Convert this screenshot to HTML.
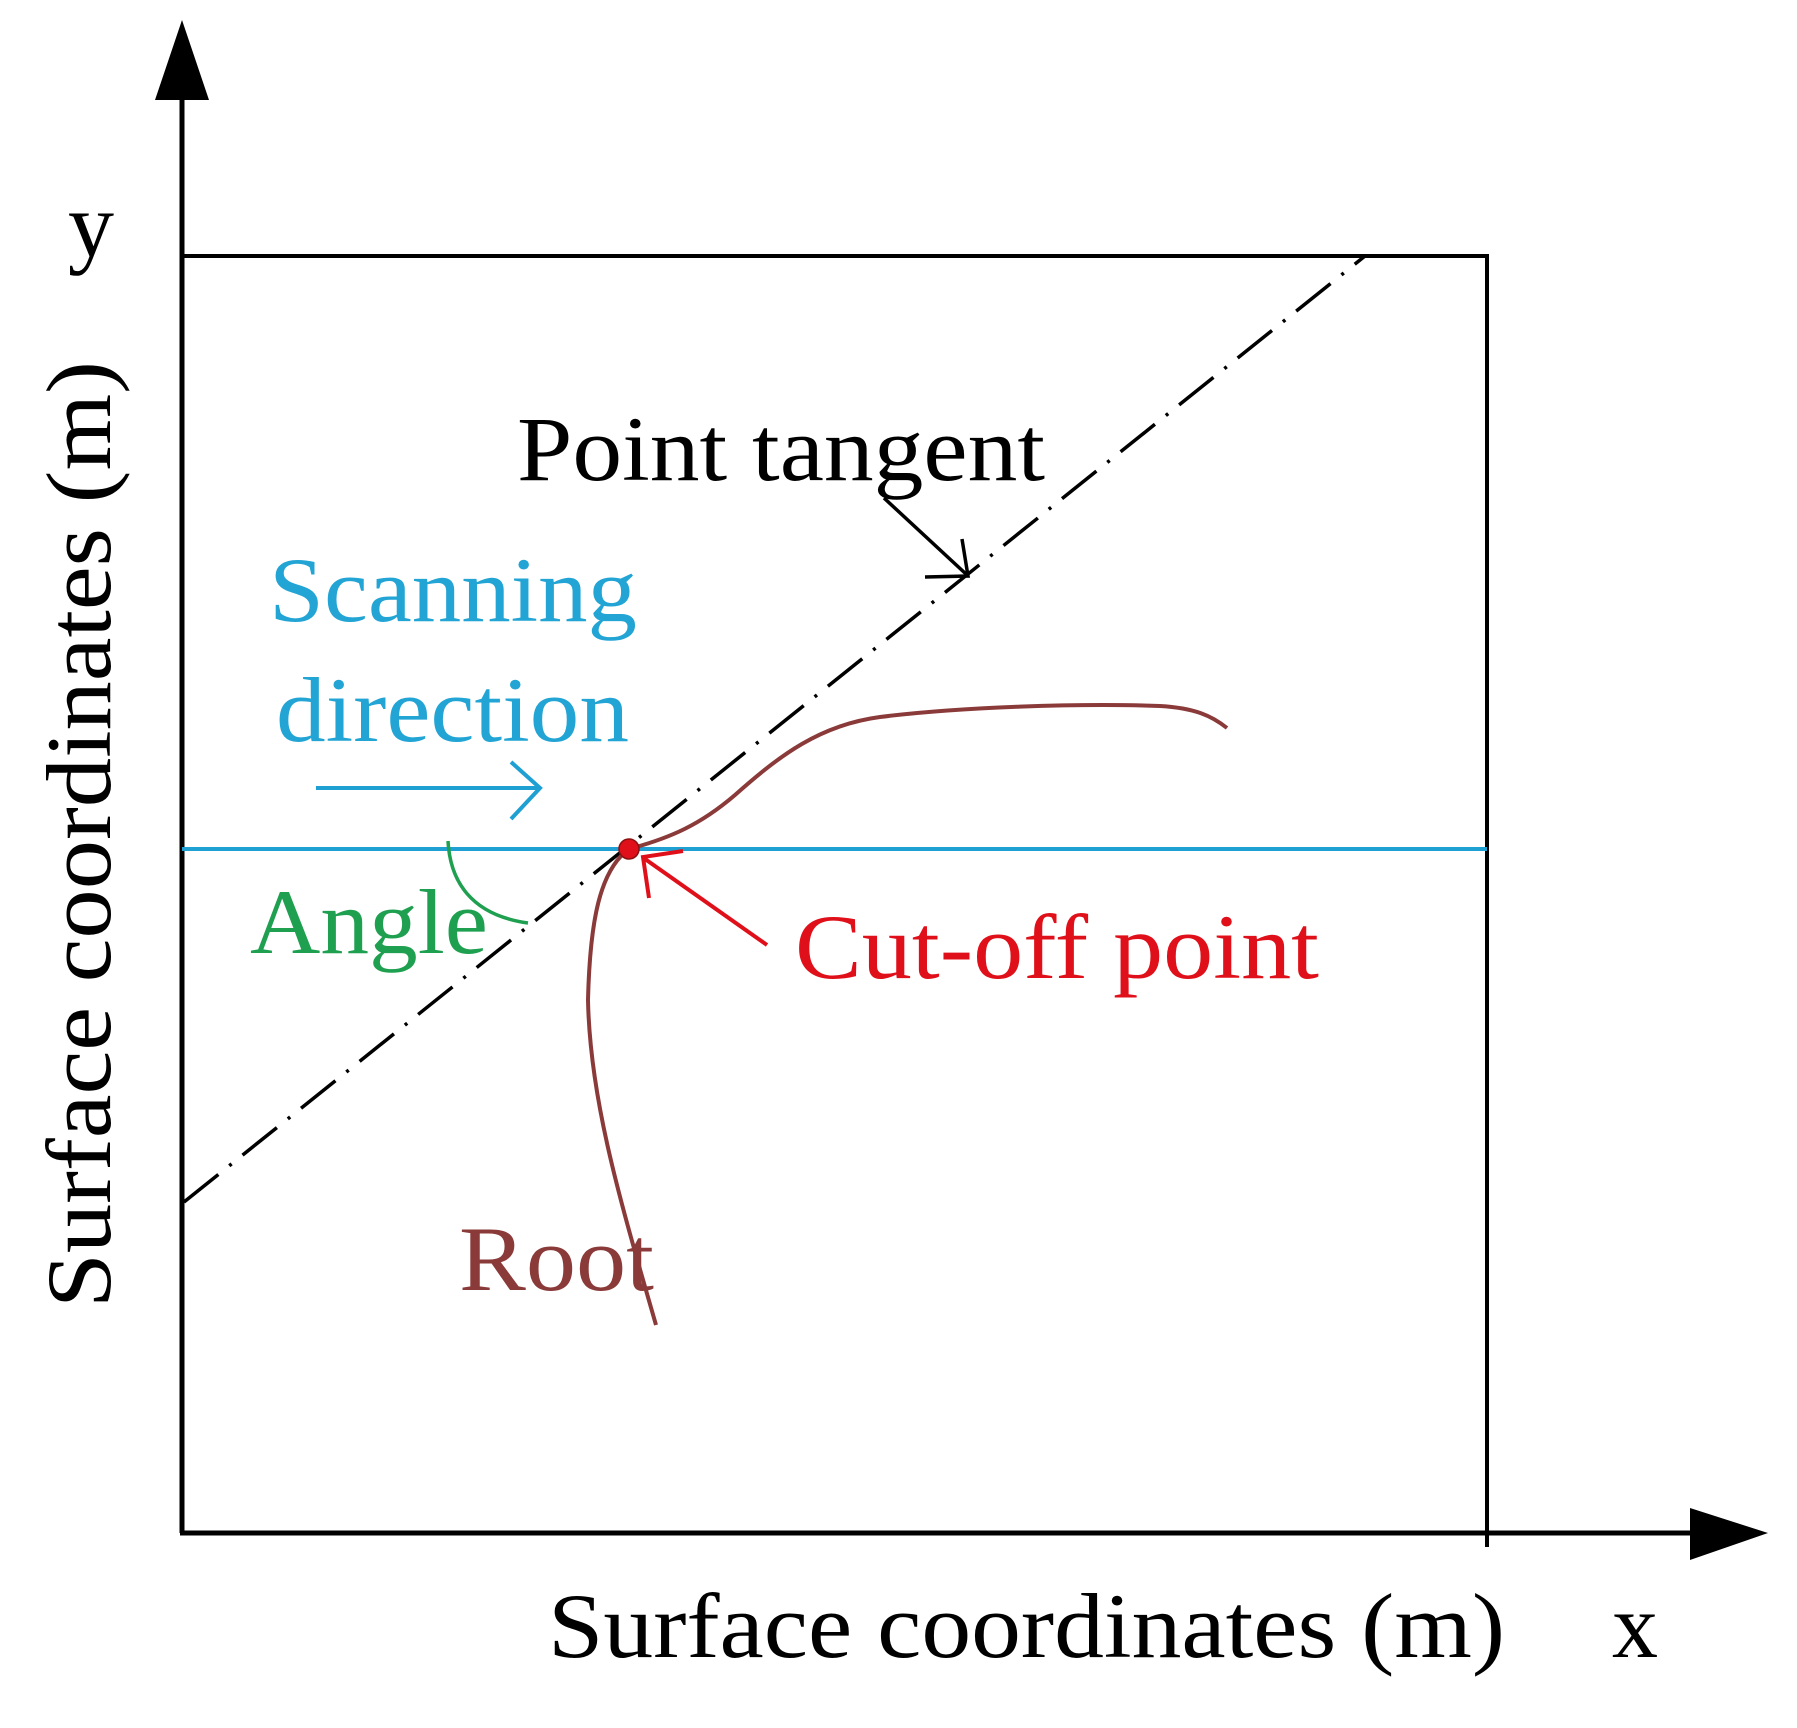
<!DOCTYPE html>
<html><head><meta charset="utf-8"><style>html,body{margin:0;padding:0;background:#fff}svg{display:block}</style></head>
<body>
<svg width="1797" height="1728" viewBox="0 0 1797 1728" xmlns="http://www.w3.org/2000/svg" font-family="Liberation Serif, serif" font-size="92">
<rect width="1797" height="1728" fill="#fff"/>
<line x1="182" y1="98" x2="182" y2="1533" stroke="#000" stroke-width="5"/>
<polygon points="182,20 155,100 209,100" fill="#000"/>
<line x1="180" y1="1533" x2="1695" y2="1533" stroke="#000" stroke-width="5"/>
<polygon points="1768,1533 1690,1508 1690,1560" fill="#000"/>
<polyline points="182,256 1487,256 1487,1547" fill="none" stroke="#000" stroke-width="4"/>
<line x1="184" y1="1202" x2="1365" y2="256" stroke="#000" stroke-width="3.5" stroke-dasharray="44 14 3 14"/>
<line x1="182" y1="849" x2="1487" y2="849" stroke="#1ea0d2" stroke-width="4"/>
<line x1="316" y1="788" x2="538" y2="788" stroke="#1ea0d2" stroke-width="4"/>
<polyline points="511,762 540,788 511,819" fill="none" stroke="#1ea0d2" stroke-width="4"/>
<path d="M629,849 C670,838 700,825 735,795 C780,755 820,725 880,717 C960,707 1080,703 1160,706 C1195,708 1212,716 1227,728" fill="none" stroke="#8b3a3a" stroke-width="4"/>
<path d="M629,849 C600,870 590,920 588,1000 C590,1100 620,1200 656,1325" fill="none" stroke="#8b3a3a" stroke-width="4"/>
<path d="M448,841 C450,880 470,915 528,923" fill="none" stroke="#1fa050" stroke-width="3.5"/>
<line x1="767" y1="945" x2="645" y2="859" stroke="#e0101a" stroke-width="4"/>
<polyline points="649,898 643,857 683,851" fill="none" stroke="#e0101a" stroke-width="4"/>
<circle cx="629" cy="849" r="10" fill="#e0101a" stroke="#8b1010" stroke-width="1.5"/>
<line x1="884" y1="498" x2="966" y2="574" stroke="#000" stroke-width="3.5"/>
<polyline points="962,539 968,576 925,577" fill="none" stroke="#000" stroke-width="3.5"/>
<text x="517" y="480" textLength="528" lengthAdjust="spacingAndGlyphs" fill="#000">Point tangent</text>
<text x="269" y="621" textLength="368" lengthAdjust="spacingAndGlyphs" fill="#22a4d4">Scanning</text>
<text x="276" y="741" textLength="353" lengthAdjust="spacingAndGlyphs" fill="#22a4d4">direction</text>
<text x="250" y="953" textLength="238" lengthAdjust="spacingAndGlyphs" fill="#1fa050">Angle</text>
<text x="795" y="978" textLength="524" lengthAdjust="spacingAndGlyphs" fill="#e0101a">Cut-off point</text>
<text x="459" y="1290" textLength="195" lengthAdjust="spacingAndGlyphs" fill="#8b3a3a">Root</text>
<text x="548" y="1657" textLength="957" lengthAdjust="spacingAndGlyphs" fill="#000">Surface coordinates (m)</text>
<text x="1612" y="1657" fill="#000">x</text>
<text x="68" y="256" fill="#000">y</text>
<text transform="translate(110,1308) rotate(-90)" x="0" y="0" textLength="947" lengthAdjust="spacingAndGlyphs" fill="#000">Surface coordinates (m)</text>
</svg>
</body></html>
